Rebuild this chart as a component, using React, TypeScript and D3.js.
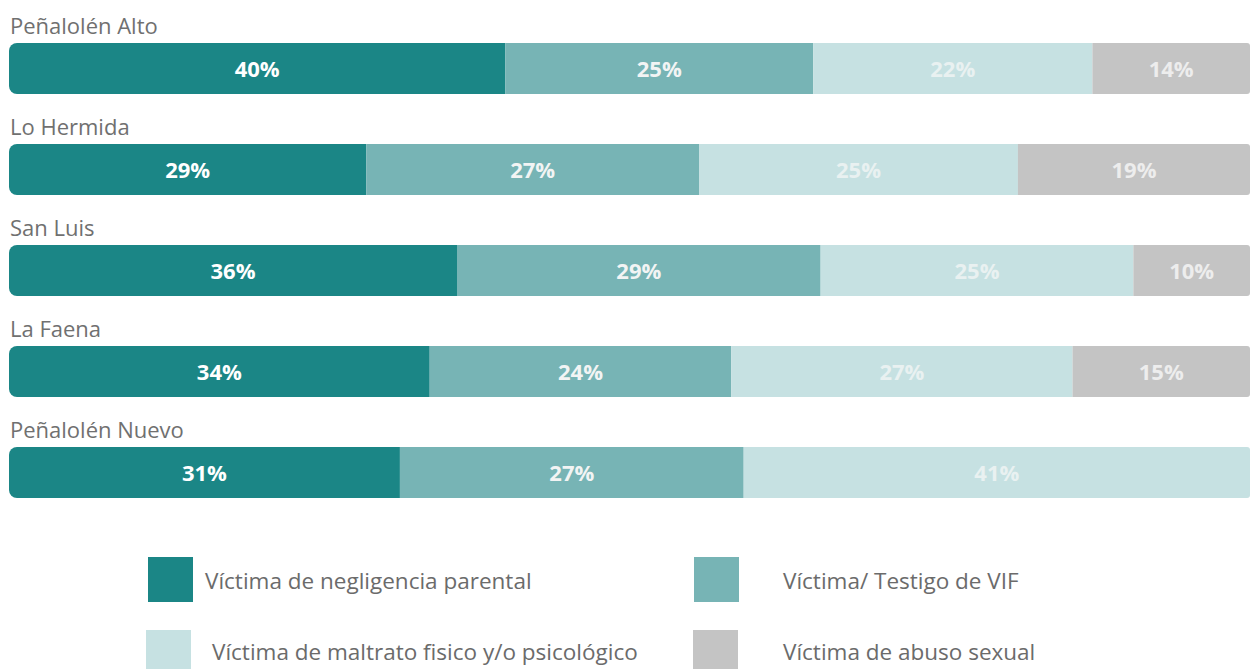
import { useRef, useEffect } from "react";
import * as d3 from "d3";

const categories = ["Peñalolén Alto", "Lo Hermida", "San Luis", "La Faena", "Peñalolén Nuevo"];
const seriesNames = [
  "Víctima de negligencia parental",
  "Víctima/ Testigo de VIF",
  "Víctima de maltrato fisico y/o psicológico",
  "Víctima de abuso sexual",
];
// segment widths (share of each bar, %)
const negligencia = [40.0, 28.8, 36.1, 33.9, 31.5];
const vif = [24.8, 26.8, 29.3, 24.3, 27.7];
const maltrato = [22.5, 25.7, 25.2, 27.5, 40.8];
const abuso = [12.7, 18.7, 9.4, 14.3, 0];
// labels as printed on the bars
const negligenciaLbl = ["40%", "29%", "36%", "34%", "31%"];
const vifLbl = ["25%", "27%", "29%", "24%", "27%"];
const maltratoLbl = ["22%", "25%", "25%", "27%", "41%"];
const abusoLbl = ["14%", "19%", "10%", "15%", ""];

const colors = ["#1b8686", "#77b4b5", "#c6e1e2", "#c4c4c4"];
const labelColors = ["#ffffff", "#f2f4f4", "#e9f1f1", "#ededed"];

export default function App() {
  const ref = useRef<SVGSVGElement>(null);
  useEffect(() => {
    if (!ref.current) return;
    const svg = d3.select(ref.current);
    svg.selectAll("*").remove();
    const font = "'Open Sans', 'Noto Sans', sans-serif";

    const x = d3.scaleLinear().domain([0, 100]).range([9, 1250]);
    const y = d3.scaleLinear().domain([0, categories.length - 1]).range([43, 447]);
    const barH = 51;

    const series = [negligencia, vif, maltrato, abuso];
    const labels = [negligenciaLbl, vifLbl, maltratoLbl, abusoLbl];

    const defs = svg.append("defs");

    categories.forEach((cat, i) => {
      const top = Math.round(y(i));
      const x0 = x(0);
      const x1 = x(100);
      const rl = 8;
      const rr = 3;
      const p = d3.path();
      p.moveTo(x0 + rl, top);
      p.lineTo(x1 - rr, top);
      p.arcTo(x1, top, x1, top + rr, rr);
      p.lineTo(x1, top + barH - rr);
      p.arcTo(x1, top + barH, x1 - rr, top + barH, rr);
      p.lineTo(x0 + rl, top + barH);
      p.arcTo(x0, top + barH, x0, top + barH - rl, rl);
      p.lineTo(x0, top + rl);
      p.arcTo(x0, top, x0 + rl, top, rl);
      p.closePath();
      defs.append("clipPath").attr("id", `clip${i}`).append("path").attr("d", p.toString());

      svg.append("text")
        .attr("x", 10)
        .attr("y", top - 9)
        .style("font-family", font)
        .style("font-size", "22px")
        .style("fill", "#707070")
        .text(cat);

      const g = svg.append("g").attr("clip-path", `url(#clip${i})`);
      let acc = 0;
      series.forEach((s, k) => {
        const v = s[i];
        if (v <= 0) return;
        const a = x(acc);
        const b = x(acc + v);
        g.append("rect")
          .attr("x", a)
          .attr("y", top)
          .attr("width", b - a)
          .attr("height", barH)
          .attr("fill", colors[k]);
        svg.append("text")
          .attr("x", (a + b) / 2)
          .attr("y", top + barH / 2 + 1)
          .attr("dy", "0.35em")
          .attr("text-anchor", "middle")
          .style("font-family", font)
          .style("font-size", "22px")
          .style("font-weight", "700")
          .style("fill", labelColors[k])
          .text(labels[k][i]);
        acc += v;
      });
    });

    // legend
    const legendPos = [
      { sx: 148, sy: 557, tx: 205, ty: 581 },
      { sx: 694, sy: 557, tx: 783, ty: 581 },
      { sx: 146, sy: 630, tx: 212, ty: 652 },
      { sx: 693, sy: 630, tx: 783, ty: 652 },
    ];
    seriesNames.forEach((name, k) => {
      const pos = legendPos[k];
      svg.append("rect")
        .attr("x", pos.sx)
        .attr("y", pos.sy)
        .attr("width", 45)
        .attr("height", 45)
        .attr("fill", colors[k]);
      svg.append("text")
        .attr("x", pos.tx)
        .attr("y", pos.ty)
        .attr("dy", "0.35em")
        .style("font-family", font)
        .style("font-size", "22.5px")
        .style("fill", "#6b6b6b")
        .text(name);
    });
  }, []);

  return (
    <svg
      ref={ref}
      width={1251}
      height={669}
      style={{ position: "absolute", left: 0, top: 0, background: "#ffffff" }}
    />
  );
}
